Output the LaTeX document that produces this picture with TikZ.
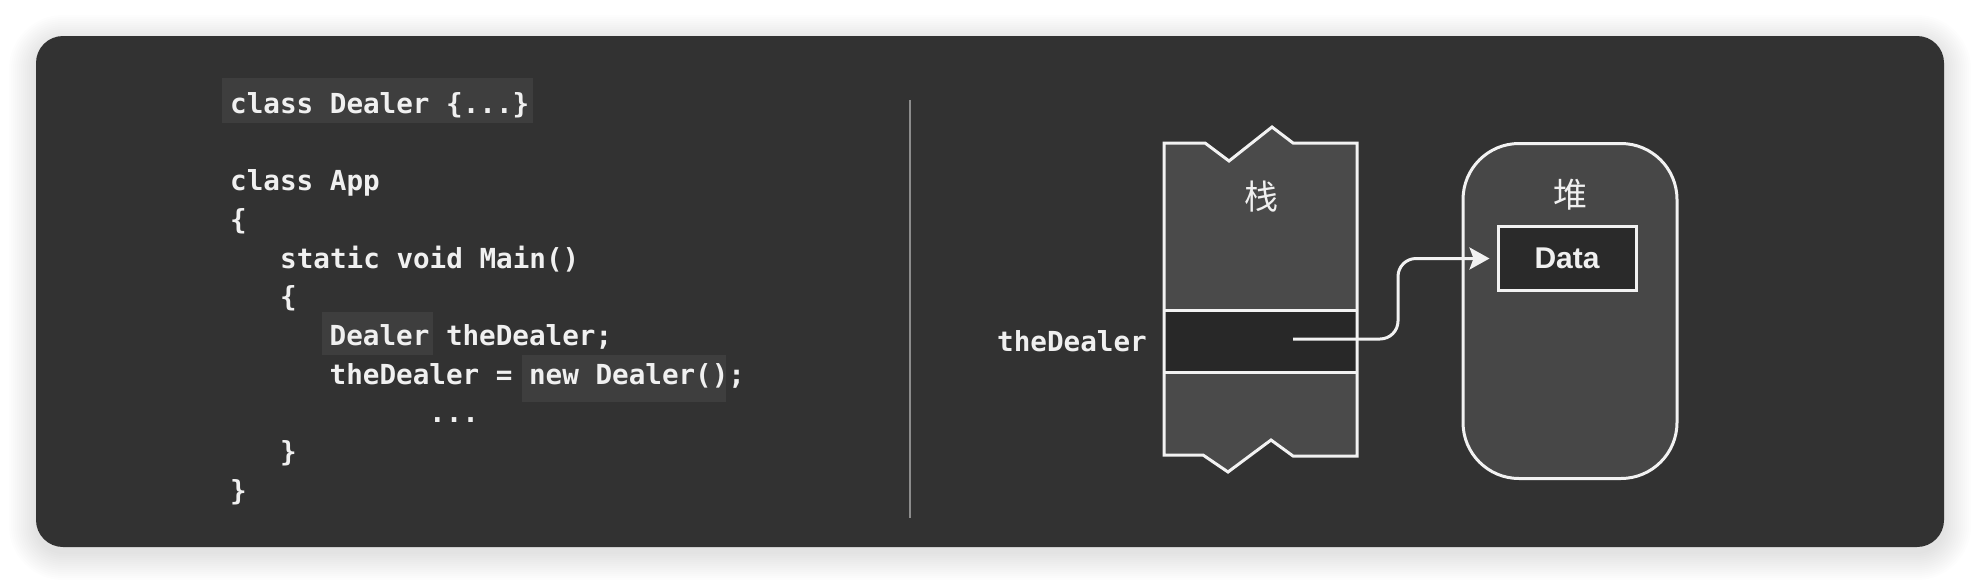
\documentclass[tikz,border=0pt]{standalone}
\usepackage{fontspec}
\usetikzlibrary{arrows.meta}
\newfontfamily\codefont{DejaVu Sans Mono}
\newfontfamily\cjkfont{Noto Sans CJK SC}
\newfontfamily\datafont{Liberation Sans}
\definecolor{panelc}{HTML}{323232}
\definecolor{hlc}{HTML}{3E3E3E}
\definecolor{stackc}{HTML}{4A4A4A}
\definecolor{bandc}{HTML}{282828}
\definecolor{heapc}{HTML}{474747}
\definecolor{datac}{HTML}{2A2A2A}
\definecolor{linec}{HTML}{F2F2F2}
\definecolor{txtc}{HTML}{F0F0F0}
\definecolor{divc}{HTML}{8C8C8C}
\tikzset{
  codeline/.style={font=\codefont\bfseries\fontsize{27.6}{30}\selectfont, text=txtc, anchor=base west, inner sep=0pt},
  hilite/.style={fill=hlc, draw=none},
  memline/.style={draw=linec, line width=3pt, line join=miter},
  cjklabel/.style={font=\cjkfont\fontsize{34}{36}\selectfont, text=txtc, inner sep=0pt},
  databox/.style={draw=linec, line width=3pt, fill=datac, minimum width=138pt, minimum height=64pt, inner sep=0pt, font=\datafont\bfseries\fontsize{30}{32}\selectfont, text=txtc},
  heapbox/.style={draw=linec, line width=3pt, fill=heapc, minimum width=214pt, minimum height=335pt, rounded corners=56pt, inner sep=0pt},
  refarrow/.style={draw=linec, line width=3pt, rounded corners=18pt, -{Stealth[length=20pt,width=22pt,inset=4pt]}, shorten >=7pt}
}
\begin{document}
\begin{tikzpicture}[x=1pt,y=-1pt]
\useasboundingbox (0,0) rectangle (1980,584);
\fill[white] (0,0) rectangle (1980,584);
% soft shadow
\foreach \d in {1,3,...,27}{
  \fill[black, opacity=0.009, rounded corners=27pt+\d pt] (36-\d,36-\d+6) rectangle (1944+\d,547+\d+6);
}
% panel
\fill[panelc, rounded corners=27pt] (36,36) rectangle (1944,547);

% code highlights
\fill[hilite] (222,78) rectangle (533,123);
\fill[hilite] (322,312) rectangle (433,355);
\fill[hilite] (522,355) rectangle (726,402);

% code lines
\node[codeline] (c1) at (230,113) {class Dealer \{...\}};
\node[codeline] (c2) at (230,190) {class App};
\node[codeline] (c3) at (230,229) {\{};
\node[codeline] (c4) at (280,268) {static void Main()};
\node[codeline] (c5) at (280,306.5) {\{};
\node[codeline] (c6) at (329.5,345) {Dealer theDealer;};
\node[codeline] (c7) at (329.5,384) {theDealer = new Dealer();};
\node[codeline] (c8) at (429,422.5) {...};
\node[codeline] (c9) at (280,461) {\}};
\node[codeline] (c10) at (230,500) {\}};

% divider
\coordinate (dtop) at (910,100);
\coordinate (dbot) at (910,518);
\draw[divc, line width=2pt] (dtop) -- (dbot);

% stack
\fill[stackc] (1164,143) -- (1205,143) -- (1229,161) -- (1272,127) -- (1293,143) -- (1357,143)
  -- (1357,456) -- (1293,456) -- (1271,440) -- (1228,472) -- (1203,455) -- (1164,455) -- cycle;
\fill[bandc] (1164,310) rectangle (1357,372);
\draw[memline] (1164,143) -- (1205,143) -- (1229,161) -- (1272,127) -- (1293,143) -- (1357,143)
  -- (1357,456) -- (1293,456) -- (1271,440) -- (1228,472) -- (1203,455) -- (1164,455) -- cycle;
\draw[memline] (1164,310) -- (1357,310);
\draw[memline] (1164,372) -- (1357,372);
\node[cjklabel] (stack) at (1261,197) {栈};
\node[codeline] (var) at (997,351.5) {theDealer};

% heap
\node[heapbox] (heap) at (1570,311) {};
\node[cjklabel] (heaplabel) at (1570,195) {堆};
\node[databox] (data) at (1567,258.5) {Data};

% reference arrow
\coordinate (ref) at (1293,339);
\draw[refarrow] (ref) -- (1398,339) |- (data.west);
\end{tikzpicture}
\end{document}
